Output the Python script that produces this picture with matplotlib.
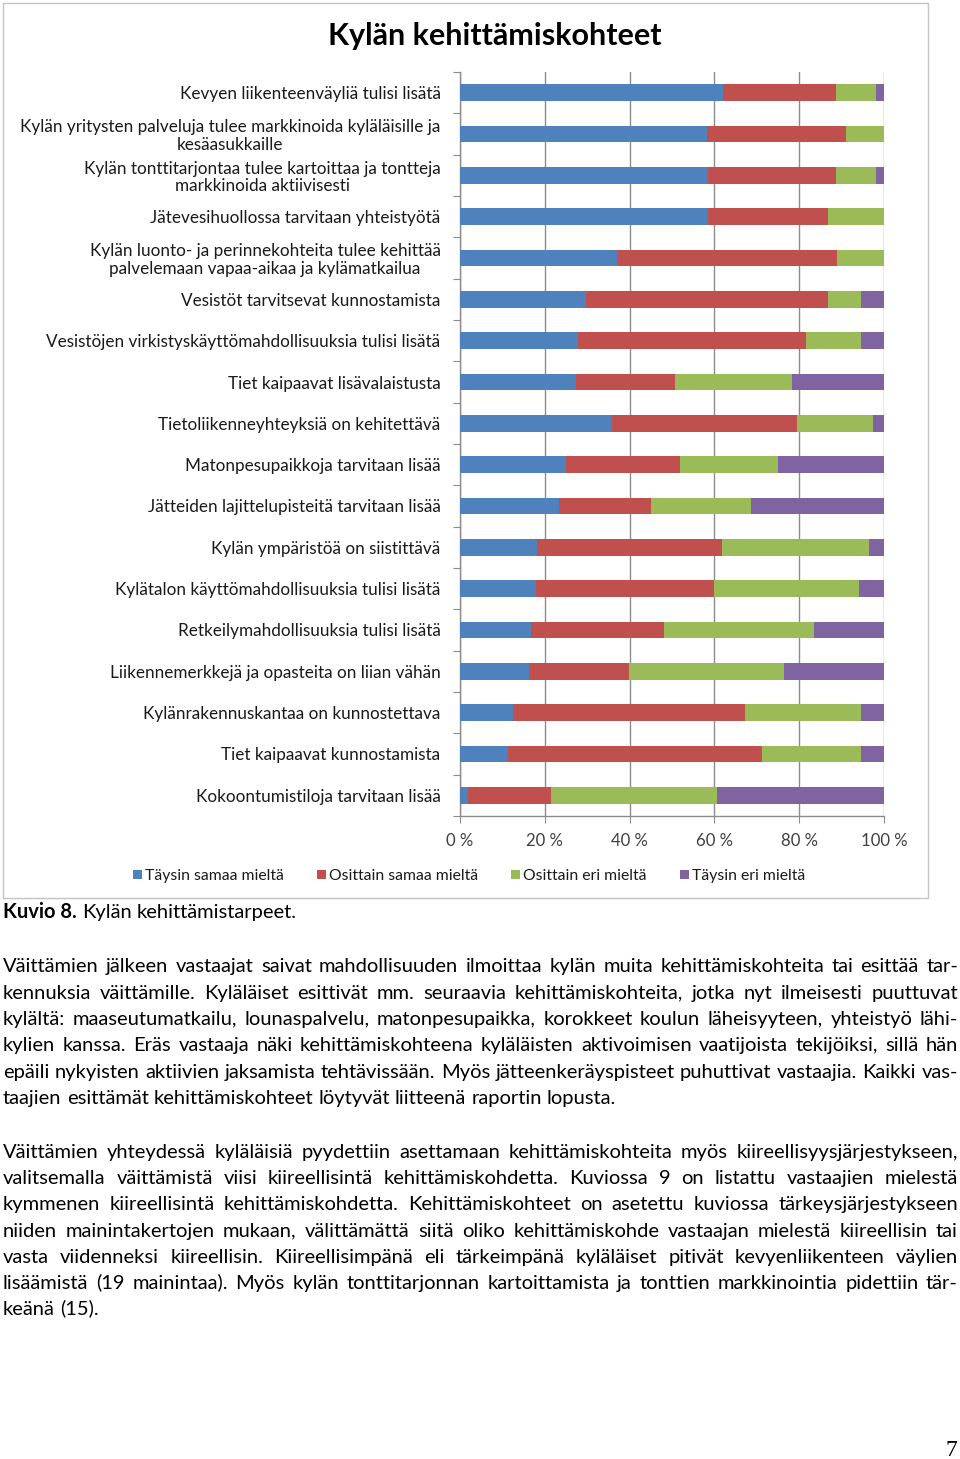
import math
import matplotlib
matplotlib.use('Agg')
import matplotlib.pyplot as plt
from matplotlib.patches import Rectangle
from matplotlib import font_manager
from matplotlib.font_manager import FontProperties
import numpy as np

# ---------------- data ----------------
categories = [
    'Kevyen liikenteenväyliä tulisi lisätä',
    'Kylän yritysten palveluja tulee markkinoida kyläläisille ja\nkesäasukkaille',
    'Kylän tonttitarjontaa tulee kartoittaa ja tontteja\nmarkkinoida aktiivisesti',
    'Jätevesihuollossa tarvitaan yhteistyötä',
    'Kylän luonto- ja perinnekohteita tulee kehittää\npalvelemaan vapaa-aikaa ja kylämatkailua',
    'Vesistöt tarvitsevat kunnostamista',
    'Vesistöjen virkistyskäyttömahdollisuuksia tulisi lisätä',
    'Tiet kaipaavat lisävalaistusta',
    'Tietoliikenneyhteyksiä on kehitettävä',
    'Matonpesupaikkoja tarvitaan lisää',
    'Jätteiden lajittelupisteitä tarvitaan lisää',
    'Kylän ympäristöä on siistittävä',
    'Kylätalon käyttömahdollisuuksia tulisi lisätä',
    'Retkeilymahdollisuuksia tulisi lisätä',
    'Liikennemerkkejä ja opasteita on liian vähän',
    'Kylänrakennuskantaa on kunnostettava',
    'Tiet kaipaavat kunnostamista',
    'Kokoontumistiloja tarvitaan lisää',
]
taysin_samaa = [62.1, 58.3, 58.4, 58.4, 37.0, 29.6, 27.8, 27.3, 35.8,
                25.0, 23.4, 18.1, 17.9, 16.7, 16.2, 12.6, 11.4, 1.8]
osittain_samaa = [26.5, 32.7, 30.2, 28.3, 51.8, 57.3, 53.7, 23.5, 43.6,
                  26.9, 21.6, 43.7, 42.0, 31.5, 23.7, 54.6, 59.9, 19.7]
osittain_eri = [9.4, 9.0, 9.4, 13.3, 11.2, 7.6, 13.0, 27.4, 18.1,
                23.2, 23.7, 34.6, 34.2, 35.2, 36.4, 27.3, 23.2, 39.1]
taysin_eri = [2.0, 0.0, 2.0, 0.0, 0.0, 5.5, 5.5, 21.8, 2.5,
              24.9, 31.3, 3.6, 5.9, 16.6, 23.7, 5.5, 5.5, 39.4]
series_names = ['Täysin samaa mieltä', 'Osittain samaa mieltä',
                'Osittain eri mieltä', 'Täysin eri mieltä']
series_colors = ['#4F81BD', '#C0504D', '#9BBB59', '#8064A2']
x_ticks = [0, 20, 40, 60, 80, 100]
x_tick_labels = ['0 %', '20 %', '40 %', '60 %', '80 %', '100 %']
chart_title = 'Kylän kehittämiskohteet'

caption_bold = 'Kuvio 8.'
caption_rest = 'Kylän kehittämistarpeet.'
paragraph1 = [
    'Väittämien jälkeen vastaajat saivat mahdollisuuden ilmoittaa kylän muita kehittämiskohteita tai esittää tar-',
    'kennuksia väittämille. Kyläläiset esittivät mm. seuraavia kehittämiskohteita, jotka nyt ilmeisesti puuttuvat',
    'kylältä: maaseutumatkailu, lounaspalvelu, matonpesupaikka, korokkeet koulun läheisyyteen, yhteistyö lähi-',
    'kylien kanssa. Eräs vastaaja näki kehittämiskohteena kyläläisten aktivoimisen vaatijoista tekijöiksi, sillä hän',
    'epäili nykyisten aktiivien jaksamista tehtävissään. Myös jätteenkeräyspisteet puhuttivat vastaajia. Kaikki vas-',
    'taajien esittämät kehittämiskohteet löytyvät liitteenä raportin lopusta.',
]
paragraph2 = [
    'Väittämien yhteydessä kyläläisiä pyydettiin asettamaan kehittämiskohteita myös kiireellisyysjärjestykseen,',
    'valitsemalla väittämistä viisi kiireellisintä kehittämiskohdetta. Kuviossa 9 on listattu vastaajien mielestä',
    'kymmenen kiireellisintä kehittämiskohdetta. Kehittämiskohteet on asetettu kuviossa tärkeysjärjestykseen',
    'niiden mainintakertojen mukaan, välittämättä siitä oliko kehittämiskohde vastaajan mielestä kiireellisin tai',
    'vasta viidenneksi kiireellisin. Kiireellisimpänä eli tärkeimpänä kyläläiset pitivät kevyenliikenteen väylien',
    'lisäämistä (19 mainintaa). Myös kylän tonttitarjonnan kartoittamista ja tonttien markkinointia pidettiin tär-',
    'keänä (15).',
]
page_number = '7'

# ---------------- setup ----------------
W, H = 960, 1459
fig = plt.figure(figsize=(W / 100, H / 100), dpi=100)
fig.patch.set_facecolor('white')
page = fig.add_axes([0, 0, 1, 1], zorder=0)
page.set_xlim(0, W)
page.set_ylim(H, 0)
page.axis('off')
renderer = fig.canvas.get_renderer()

installed = {f.name for f in font_manager.fontManager.ttflist}
SANS = 'Lato' if 'Lato' in installed else 'DejaVu Sans'
NARROW = 'Liberation Sans Narrow' if 'Liberation Sans Narrow' in installed else SANS
SERIF = 'Liberation Serif' if 'Liberation Serif' in installed else 'DejaVu Serif'


def tw(s, size, family, weight='normal'):
    t = page.text(0, 0, s, fontsize=size, family=family, fontweight=weight)
    w = t.get_window_extent(renderer).width
    t.remove()
    return w


def fit(s, target, family, weight='normal'):
    return 10 * target / tw(s, 10, family, weight)


# chart frame
page.add_patch(Rectangle((3, 3), 925, 895, fill=False, edgecolor='#c4c4c4', lw=1.0))

# title
title_size = fit(chart_title, 334, SANS, 'bold')
page.text(495, 45, chart_title, fontsize=title_size, family=SANS, fontweight='bold',
          ha='center', va='baseline', color='black')

# ---------------- chart ----------------
label_size = fit('Vesistöjen virkistyskäyttömahdollisuuksia tulisi lisätä', 395, SANS)
ax = fig.add_axes([460 / W, 1 - 816 / H, 424 / W, (816 - 72) / H], zorder=2)
ax.patch.set_alpha(0)
n = len(categories)
y = np.arange(n)
left = np.zeros(n)
bars = []
for vals, col, name in zip([taysin_samaa, osittain_samaa, osittain_eri, taysin_eri],
                           series_colors, series_names):
    vals = np.array(vals)
    b = ax.barh(y, vals, left=left, height=0.40, color=col, label=name, zorder=3)
    bars.append(b)
    left += vals

ax.set_xlim(0, 100)
ax.set_ylim(n - 0.5, -0.5)
ax.set_xticks(x_ticks, x_tick_labels)
ax.xaxis.grid(True, color='#8c8c8c', lw=1.0, zorder=0)
ax.set_axisbelow(True)
ax.tick_params(axis='x', length=5, color='#8c8c8c', pad=7, labelsize=label_size * 0.98,
               labelcolor='#404040')
for lab in ax.get_xticklabels():
    lab.set_family(SANS)

ax.set_yticks(np.arange(n + 1) - 0.5)
ax.set_yticklabels([])
ax.tick_params(axis='y', which='major', length=5, color='#8c8c8c', direction='out')
ax.set_yticks(y, minor=True)
ax.set_yticklabels(categories, minor=True)
ax.tick_params(axis='y', which='minor', length=0, pad=14, labelsize=label_size,
               labelcolor='#1a1a1a')
for lab in ax.get_yticklabels(minor=True):
    lab.set_family(SANS)
    lab.set_multialignment('center')
    lab.set_linespacing(1.1)

for s in ['top', 'right']:
    ax.spines[s].set_visible(False)
for s in ['left', 'bottom']:
    ax.spines[s].set_color('#8c8c8c')
    ax.spines[s].set_linewidth(1.0)

# legend
leg_size = fit(series_names[0], 138, NARROW)
px = leg_size * 100 / 72
leg = fig.legend(handles=bars, labels=series_names, ncol=4, loc='center left',
                 bbox_to_anchor=(133 / W, 1 - 876 / H), frameon=False,
                 prop={'family': NARROW, 'size': leg_size},
                 handlelength=9 / px, handleheight=9 / px, handletextpad=3 / px,
                 columnspacing=33 / px, borderpad=0, borderaxespad=0)
for t in leg.get_texts():
    t.set_color('#1a1a1a')

# ---------------- body text ----------------
LEFT, RIGHT = 3, 958
body_size = fit(paragraph1[-1], 618, SANS)
justified = paragraph1[:-1] + paragraph2[:-1]
maxw = max(tw(l, body_size, SANS) for l in justified)
if maxw > (RIGHT - LEFT) * 1.01:
    body_size *= (RIGHT - LEFT) * 1.01 / maxw
space_w = tw('a a', body_size, SANS) - 2 * tw('a', body_size, SANS)


def snapped_baseline(word, row, weight='normal'):
    """y for va='baseline' so that Agg puts every word's baseline on the same pixel row."""
    fp = FontProperties(family=SANS, size=body_size, weight=weight)
    _, h, d = renderer.get_text_width_height_descent(word, fp, ismath=False)
    return row + math.floor(h) - math.floor(h - d) - d


def put_word(x, row, word, weight='normal'):
    page.text(x, snapped_baseline(word, row, weight), word, fontsize=body_size,
              family=SANS, fontweight=weight, va='baseline', ha='left', color='black')


# caption
put_word(LEFT, 918, caption_bold, 'bold')
cbw = tw(caption_bold, body_size, SANS, 'bold')
x = LEFT + cbw + space_w
for w in caption_rest.split(' '):
    put_word(x, 918, w)
    x += tw(w, body_size, SANS) + space_w


def draw_paragraph(lines, base0, step):
    for i, line in enumerate(lines):
        row = int(round(base0 + i * step))
        words = line.split(' ')
        widths = [tw(w, body_size, SANS) for w in words]
        if i == len(lines) - 1:
            gap = space_w
        else:
            gap = max((RIGHT - LEFT - sum(widths)) / (len(words) - 1), space_w * 0.5)
        x = LEFT
        for w, ww in zip(words, widths):
            put_word(x, row, w)
            x += ww + gap


draw_paragraph(paragraph1, 972.5, 26.3)
draw_paragraph(paragraph2, 1158, 26.17)

# page number
page.text(957, 1456, page_number, fontsize=17, family=SERIF, ha='right',
          va='baseline', color='black')

fig.savefig('out.png', dpi=100, facecolor='white')
